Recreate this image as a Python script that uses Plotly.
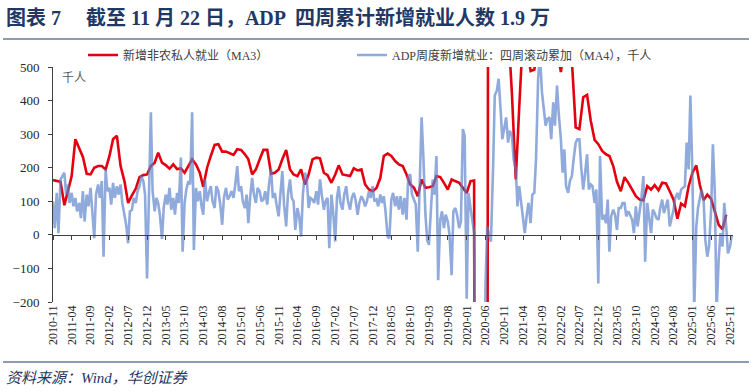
import plotly.graph_objects as go
import pandas as pd

# ---------------- data ----------------
# 新增非农私人就业（MA3），千人, monthly from 2010-11 to 2025-10
private_ma3 = [
    163, 160,                                                         # 2010
    158, 88, 130, 175, 285, 255, 232, 182, 180, 200, 205, 205,        # 2011
    195, 235, 285, 295, 205, 160, 95, 118, 138, 172, 178, 180,        # 2012
    205, 215, 245, 215, 208, 197, 210, 196, 198, 185, 205, 225,       # 2013
    210, 185, 143, 200, 235, 268, 270, 248, 248, 242, 238, 255,       # 2014
    253, 240, 225, 180, 195, 225, 253, 253, 182, 185, 195, 225,       # 2015
    253, 195, 180, 175, 195, 150, 180, 225, 230, 228, 185, 178,       # 2016
    155, 180, 207, 180, 178, 175, 198, 192, 195, 150, 135, 130,       # 2017
    140, 170, 235, 242, 235, 220, 210, 205, 180, 150, 140, 115,       # 2018
    165, 140, 142, 145, 175, 172, 155, 135, 165, 160, 155, 140,       # 2019
    125, 160, 162, -7000, -5800, -4500, 3000, 2200, 1100, 900, 700, 620,  # 2020
    420, 165, 380, 600, 560, 488, 492, 600, 650, 580, 560, 600,       # 2021
    560, 485, 560, 600, 520, 320, 315, 410, 417, 340, 283, 270,       # 2022
    250, 240, 235, 205, 158, 130, 172, 155, 135, 115, 105, 103,       # 2023
    145, 135, 148, 133, 155, 153, 130, 105, 48, 93, 85, 145,          # 2024
    185, 207, 150, 103, 120, 107, 70, 30, 17, 60,                     # 2025
]

# ADP周度新增就业：四周滚动累加（MA4），千人, two readings per month (1st / 16th)
adp_ma4 = [
    100, 20, 125, 5,                                                                                 # 2010
    165, 175, 185, 120, 150, 95, 125, 85, 110, 70, 95, 50, 130, 40, 120, 85, 140, 70, -10, 120, 150, 110, 160, -65,   # 2011
    195, 130, 140, 90, 155, 110, 145, 120, 150, 95, 60, 30, -25, 70, 75, 110, 95, 130, 145, 175, 160, 120, -130, 100, # 2012
    365, 130, 70, 110, 95, 60, -12, 80, 120, 90, 140, 75, 110, 60, 125, 95, 230, -50, 95, 135, 160, 150, 365, -45,    # 2013
    140, 100, 130, 85, 60, 165, 100, 125, 145, 100, 80, 145, 130, 95, 30, 110, 140, 105, 115, 130, 110, 150, 205, 130, # 2014
    145, 100, 80, 120, 35, 110, 170, 120, 95, 140, 130, 100, 105, 130, 90, 150, 195, 110, 125, 90, 55, 120, 190, 90,   # 2015
    25, 120, 165, 110, 100, 15, 80, 55, -5, 120, 185, 170, 80, 110, 105, 95, 130, 90, 165, 120, 75, 100, 110, -40,     # 2016
    120, 70, -20, 110, 145, 95, 75, 120, 145, 100, 75, 110, 125, 105, 60, 95, 115, 105, 85, 100, 130, 110, 145, 100,   # 2017
    105, 85, 120, 95, 115, 70, -5, -10, 105, 125, 85, 115, 75, 115, 60, 110, 45, 175, 180, 120, 100, 90, -50, 150,     # 2018
    350, 235, 60, -15, -30, 60, 165, 120, 235, -135, 45, 70, 20, 60, 40, 0, -120, 70, 80, 60, 20, 40, 315, 295,        # 2019
    -190, 125, 80, 40, 5, -900, -3000, -4500, -3500, -1200, -150, 25, 0, -20, 195, 415, 430, 465, 375, 285, 320, 350, 275, 310,  # 2020
    295, 225, 195, 85, 145, 100, 65, 5, 60, 95, 35, 120, 125, 225, 465, 540, 425, 375, 325, 345, 350, 285, 395, 325,   # 2021
    445, 360, 285, 185, 255, 145, 125, 160, 175, 225, 275, 285, 285, 205, 135, 180, 240, 135, 150, 145, 95, 135, -145, 235,  # 2022
    45, 60, 35, 105, -50, 55, 75, 60, 15, 80, 80, 95, 95, 55, 70, 60, 45, 5, 85, 25, 65, 110, 175, -80,                # 2023
    95, 60, 5, 75, 65, 50, 45, 80, 105, 65, 90, 105, 25, 45, 75, 110, 125, 105, 135, 140, 145, 275, 195, 415,          # 2024
    175, -230, 25, 80, 105, 135, 105, -15, -65, -35, 75, 270, 125, -230, -75, 5, -35, 95, 25, -55, -35, 0,             # 2025
]

tick_labels = [
    "2010-11", "2011-04", "2011-09", "2012-02", "2012-07", "2012-12", "2013-05", "2013-10",
    "2014-03", "2014-08", "2015-01", "2015-06", "2015-11", "2016-04", "2016-09", "2017-02",
    "2017-07", "2017-12", "2018-05", "2018-10", "2019-03", "2019-08", "2020-01", "2020-06",
    "2020-11", "2021-04", "2021-09", "2022-02", "2022-07", "2022-12", "2023-05", "2023-10",
    "2024-03", "2024-08", "2025-01", "2025-06", "2025-11",
]

y_ticks = [-200, -100, 0, 100, 200, 300, 400, 500]

name_red = "新增非农私人就业（MA3）"
name_blue = "ADP周度新增就业：四周滚动累加（MA4），千人"

# ---------------- figure ----------------
months = pd.date_range("2010-11-01", periods=len(private_ma3), freq="MS")
halfmonths = pd.date_range("2010-11-01", periods=len(adp_ma4), freq="SMS")
tick_dates = pd.to_datetime([t + "-01" for t in tick_labels])

W, H = 753, 392
ML, MR, MT, MB = 53, 20, 67, 90
PW, PH = W - ML - MR, H - MT - MB


def px(x):
    return (x - ML) / PW


def py(y):
    return (H - MB - y) / PH


NAVY = "#1F3864"
MIX = "Liberation Serif, Noto Sans CJK SC"

fig = go.Figure()
fig.add_trace(go.Scatter(
    x=months, y=private_ma3, mode="lines", name=name_red, legend="legend",
    line=dict(color="#E3000F", width=2.6),
))
fig.add_trace(go.Scatter(
    x=halfmonths, y=adp_ma4, mode="lines", name=name_blue, legend="legend2",
    line=dict(color="rgba(91,130,204,0.68)", width=2.6),
))
# carrier for the tick axis drawn along y = 0
fig.add_trace(go.Scatter(x=[months[0]], y=[None], xaxis="x2", showlegend=False,
                         hoverinfo="skip"))

legend_style = dict(
    orientation="h", yanchor="middle", xanchor="left",
    font=dict(family=MIX, size=12, color="#404040"),
    itemwidth=30, bgcolor="rgba(0,0,0,0)",
)

xr = ["2010-11-01", "2025-11-25"]
fig.update_layout(
    width=W, height=H,
    margin=dict(l=ML, r=MR, t=MT, b=MB, autoexpand=False),
    paper_bgcolor="white", plot_bgcolor="white",
    showlegend=True,
    legend=dict(x=px(83), y=py(55), **legend_style),
    legend2=dict(x=px(352), y=py(55), **legend_style),
    xaxis=dict(
        type="date", range=xr, tickmode="array", tickvals=tick_dates, ticktext=tick_labels,
        tickangle=-90, showline=False, ticks="", showgrid=False, zeroline=False,
        tickfont=dict(family="Liberation Serif", size=12, color="#262626"),
    ),
    xaxis2=dict(
        type="date", range=xr, overlaying="x", anchor="free", position=200 / 700,
        tickmode="array", tickvals=tick_dates, showticklabels=False,
        showline=True, linecolor="#404040", linewidth=1,
        ticks="outside", ticklen=4, tickcolor="#404040", showgrid=False, zeroline=False,
    ),
    yaxis=dict(
        range=[-200, 500], tickmode="array", tickvals=y_ticks,
        showline=True, linecolor="#404040", linewidth=1,
        ticks="outside", ticklen=4, tickcolor="#404040",
        showgrid=False, zeroline=False,
        tickfont=dict(family="Liberation Serif", size=13, color="#262626"),
        ticklabelstandoff=6,
    ),
    annotations=[
        dict(text="<b>图表 7　 截至 11 月 22 日，ADP  四周累计新增就业人数 1.9 万</b>",
             xref="paper", yref="paper", x=px(4), y=py(18), xanchor="left", yanchor="middle",
             showarrow=False, font=dict(family=MIX, size=20, color=NAVY)),
        dict(text="千人", xref="paper", yref="paper", x=px(60), y=py(77),
             xanchor="left", yanchor="middle", showarrow=False,
             font=dict(family="Noto Sans CJK SC", size=12, color="#595959")),
        dict(text="<i>资料来源：Wind，华创证券</i>", xref="paper", yref="paper",
             x=px(4), y=py(378), xanchor="left", yanchor="middle", showarrow=False,
             font=dict(family=MIX, size=15, color=NAVY)),
    ],
    shapes=[
        dict(type="line", xref="paper", yref="paper", x0=px(3), x1=px(749), y0=py(39), y1=py(39),
             line=dict(color=NAVY, width=1.2)),
        dict(type="line", xref="paper", yref="paper", x0=px(3), x1=px(749), y0=py(362), y1=py(362),
             line=dict(color=NAVY, width=1.2)),
    ],
)

# the page's default 8px body margin would push the figure off its 753x392 window
fig.write_html("out.html", config={"displayModeBar": False},
               post_script="document.body.style.margin='0';")
